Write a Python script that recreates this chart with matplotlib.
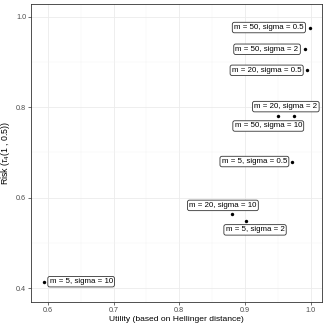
import matplotlib
matplotlib.use("Agg")
import matplotlib.pyplot as plt
from matplotlib.ticker import MultipleLocator

plt.rcParams['font.family'] = ['Liberation Sans', 'DejaVu Sans']
plt.rcParams['mathtext.fontset'] = 'custom'
plt.rcParams['mathtext.rm'] = 'Liberation Sans'
plt.rcParams['mathtext.it'] = 'Liberation Sans:italic'

labels = ["m = 50, sigma = 0.5", "m = 50, sigma = 2", "m = 20, sigma = 0.5",
          "m = 20, sigma = 2", "m = 50, sigma = 10", "m = 5, sigma = 0.5",
          "m = 20, sigma = 10", "m = 5, sigma = 2", "m = 5, sigma = 10"]
utility = [0.998, 0.9906, 0.9936, 0.975, 0.950, 0.972, 0.880, 0.901, 0.594]
risk = [0.976, 0.928, 0.8815, 0.7814, 0.780, 0.680, 0.5638, 0.549, 0.4146]

# label offsets (points) from each point, mimicking ggrepel placement
offsets = [(-29.3, 0), (-27.1, 0), (-28.8, 0), (-6.2, 6.5), (-7, -7), (-27.4, 0),
           (-6.5, 6.3), (6.7, -6.5), (26.9, 0)]

fig = plt.figure(figsize=(3.27, 3.27), dpi=100)
ax = fig.add_axes([31/327, 1 - 301.7/327, (322-31)/327, (301.7-4)/327])

ax.scatter(utility, risk, s=6, color='black', zorder=3, linewidths=0)

for lab, x, y, (dx, dy) in zip(labels, utility, risk, offsets):
    ax.annotate(lab, (x, y), xytext=(dx, dy), textcoords='offset points',
                ha='center', va='center', fontsize=5.7, color='black',
                bbox=dict(boxstyle='round,pad=0.22,rounding_size=0.25',
                          fc='white', ec='#333333', lw=0.6), zorder=4)

ax.set_xlim(0.5746, 1.0169)
ax.set_ylim(0.3704, 1.028)
ax.xaxis.set_minor_locator(MultipleLocator(0.05))
ax.yaxis.set_minor_locator(MultipleLocator(0.1))
ax.set_xticks([0.6, 0.7, 0.8, 0.9, 1.0])
ax.set_xticklabels(['0.6', '0.7', '0.8', '0.9', '1.0'])
ax.set_yticks([0.4, 0.6, 0.8, 1.0])
ax.set_yticklabels(['0.4', '0.6', '0.8', '1.0'])

ax.grid(which='major', color='#EBEBEB', lw=0.6)
ax.grid(which='minor', color='#F3F3F3', lw=0.35)
ax.set_axisbelow(True)
for sp in ax.spines.values():
    sp.set_color('#333333')
    sp.set_linewidth(0.6)
ax.tick_params(which='major', length=2, width=0.5, color='#333333',
               labelsize=5.2, labelcolor='#4D4D4D', pad=1.5)
ax.tick_params(which='minor', length=0)

ax.set_xlabel('Utility (based on Hellinger distance)', fontsize=6.1, labelpad=2)
ax.set_ylabel(r'Risk ($\tau_4$(1 , 0.5))', fontsize=6.3, labelpad=3)

fig.savefig('out.png', dpi=100)
